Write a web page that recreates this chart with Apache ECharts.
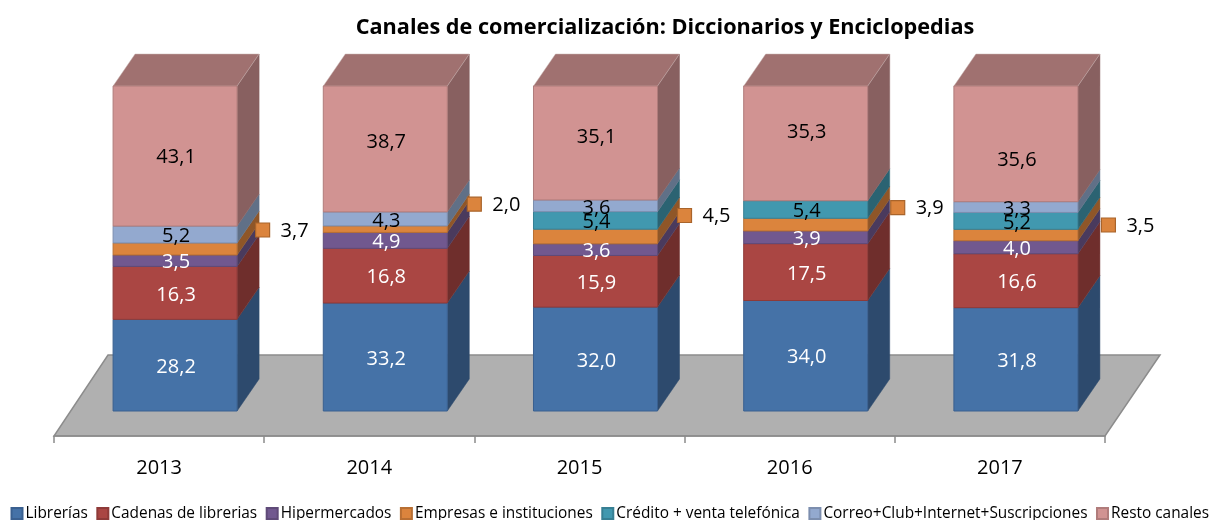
<!DOCTYPE html>
<html>
<head>
<meta charset="utf-8">
<style>html,body{margin:0;padding:0;background:#fff}#c{width:1214px;height:520px}</style>
<script src="https://cdn.jsdelivr.net/npm/echarts@6/dist/echarts.min.js"></script>
</head>
<body>
<div id="c"></div>
<script>
const years = ['2013','2014','2015','2016','2017'];
const librerias = [28.2,33.2,32.0,34.0,31.8];
const cadenas = [16.3,16.8,15.9,17.5,16.6];
const hipermercados = [3.5,4.9,3.6,3.9,4.0];
const empresas = [3.7,2.0,4.5,3.9,3.5];
const credito = [0,0,5.4,5.4,5.2];
const correo = [5.2,4.3,3.6,0,3.3];
const resto = [43.1,38.7,35.1,35.3,35.6];
const names = ['Librerías','Cadenas de librerias','Hipermercados','Empresas e instituciones','Crédito + venta telefónica','Correo+Club+Internet+Suscripciones','Resto canales'];
const values = [librerias,cadenas,hipermercados,empresas,credito,correo,resto];

const FONT = '"Open Sans", sans-serif';
const front = ['#4572A7','#AA4643','#71588F','#DB843D','#4198AF','#93A9CF','#D19392'];
const edge  = ['#3A6090','#8E3A38','#5F4A78','#B86F33','#377F93','#7C8EAE','#B07C7B'];
const side  = ['#2D4A6D','#6F2E2C','#4A3A5D','#8F5628','#2B6372','#607087','#886060'];
const topFace = '#A07170';
const DX = 22, DY = -32, SHIFT = 16, BAR_RATIO = 0.59;
const FLOOR_DROP = 7.69; // the floor's front edge lies this far below value 0, in axis units
// hand-placed outside label of the "Empresas" series, relative to its slice
const markerNudge = [[25.5,-19],[27,-25],[27,-21],[30,-17],[30.5,-10]];
const restoNudge = [-1,-9,-8,-13,14];
const EMPRESAS = 3, RESTO = 6;

const totals = years.map((_, c) => values.reduce((s, v) => s + v[c], 0));
function seriesData(si) {
  return years.map((_, c) => {
    let base = 0;
    for (let k = 0; k < si; k++) base += values[k][c];
    return [c, base / totals[c] * 100, (base + values[si][c]) / totals[c] * 100, values[si][c]];
  });
}
const fmt = v => v.toFixed(1).replace('.', ',');

function renderSegment(si) {
  return function (params, api) {
    const c = api.value(0), raw = api.value(3);
    if (!raw) return { type: 'group', children: [] };
    const w = api.size([1, 0])[0] * BAR_RATIO;
    const cx = api.coord([c, 0])[0] + SHIFT;
    const yb = api.coord([c, api.value(1)])[1];
    const yt = api.coord([c, api.value(2)])[1];
    const xl = cx - w / 2, xr = cx + w / 2;
    const kids = [];
    kids.push({ type: 'polygon', shape: { points: [[xr,yb],[xr+DX,yb+DY],[xr+DX,yt+DY],[xr,yt]] },
      style: { fill: side[si], stroke: side[si], lineWidth: 0.5 }, z2: 1 });
    if (si === values.length - 1) {
      kids.push({ type: 'polygon', shape: { points: [[xl,yt],[xr,yt],[xr+DX,yt+DY],[xl+DX,yt+DY]] },
        style: { fill: topFace, stroke: '#C9B4B3', lineWidth: 0.5 }, z2: 1 });
    }
    kids.push({ type: 'rect', shape: { x: xl, y: yt, width: w, height: yb - yt },
      style: { fill: front[si], stroke: edge[si], lineWidth: 1 }, z2: 2 });
    const mid = (yb + yt) / 2;
    if (si === EMPRESAS) {
      const n = markerNudge[c];
      const mx = xr + n[0], my = mid + n[1];
      kids.push({ type: 'rect', shape: { x: mx - 7, y: my - 7, width: 14, height: 14 },
        style: { fill: front[si], stroke: '#A9642B', lineWidth: 1.2 }, z2: 50 });
      kids.push({ type: 'text', z2: 60, style: { x: mx + 32, y: my + 1, text: fmt(raw), fill: '#000',
        font: '20px ' + FONT, textAlign: 'center', textVerticalAlign: 'middle' } });
    } else {
      const ny = si === RESTO ? restoNudge[c] : 0;
      kids.push({ type: 'text', z2: 60, style: { x: cx + 1, y: mid + 2 + ny, text: fmt(raw),
        fill: si < 3 ? '#fff' : '#000',
        font: '20px ' + FONT, textAlign: 'center', textVerticalAlign: 'middle' } });
    }
    return { type: 'group', children: kids };
  };
}

function renderFloor(params) {
  const g = params.coordSys;
  const y = g.y + g.height;
  const l = g.x, r = g.x + g.width;
  return { type: 'polygon', shape: { points: [[l,y],[r,y],[r+55,y-81],[l+54,y-81]] },
    style: { fill: '#B0B0B0', stroke: '#8C8C8C', lineWidth: 1.5 } };
}

const series = [{
  type: 'custom', name: 'floor', coordinateSystem: 'cartesian2d', silent: true, z: 1,
  renderItem: renderFloor, data: [[0, 0]], encode: { x: 0, y: 1 }
}];
names.forEach((n, i) => series.push({
  type: 'custom', name: n, coordinateSystem: 'cartesian2d', z: 2, silent: true,
  itemStyle: { color: front[i], borderColor: edge[i], borderWidth: 1 },
  renderItem: renderSegment(i), data: seriesData(i), encode: { x: 0, y: [1, 2] }
}));

const chart = echarts.init(document.getElementById('c'), null, { renderer: 'canvas' });
chart.setOption({
  animation: false,
  backgroundColor: '#fff',
  title: { text: 'Canales de comercialización: Diccionarios y Enciclopedias',
    left: 660, top: 12, textAlign: 'center',
    textStyle: { fontFamily: FONT, fontWeight: 'bold', fontSize: 21.7, color: '#000' } },
  legend: { data: names, left: 10.5, top: 506, width: 1300, icon: 'rect', itemWidth: 11, itemHeight: 11, itemGap: 8.5,
    padding: 0, selectedMode: false,
    textStyle: { fontFamily: FONT, fontSize: 15.4, color: '#000', padding: [0,0,0,-2] } },
  grid: { left: 54, right: 109, top: 86, bottom: 84 },
  xAxis: { type: 'category', data: years, boundaryGap: true, z: 3,
    axisLine: { show: true, onZero: false, lineStyle: { color: '#8C8C8C', width: 1.5 } },
    axisTick: { show: true, alignWithLabel: false, length: 7, lineStyle: { color: '#8C8C8C', width: 1.5 } },
    axisLabel: { margin: 22, fontFamily: FONT, fontSize: 20, color: '#000' } },
  yAxis: { type: 'value', min: -FLOOR_DROP, max: 100, show: false },
  series
});
</script>
</body>
</html>
